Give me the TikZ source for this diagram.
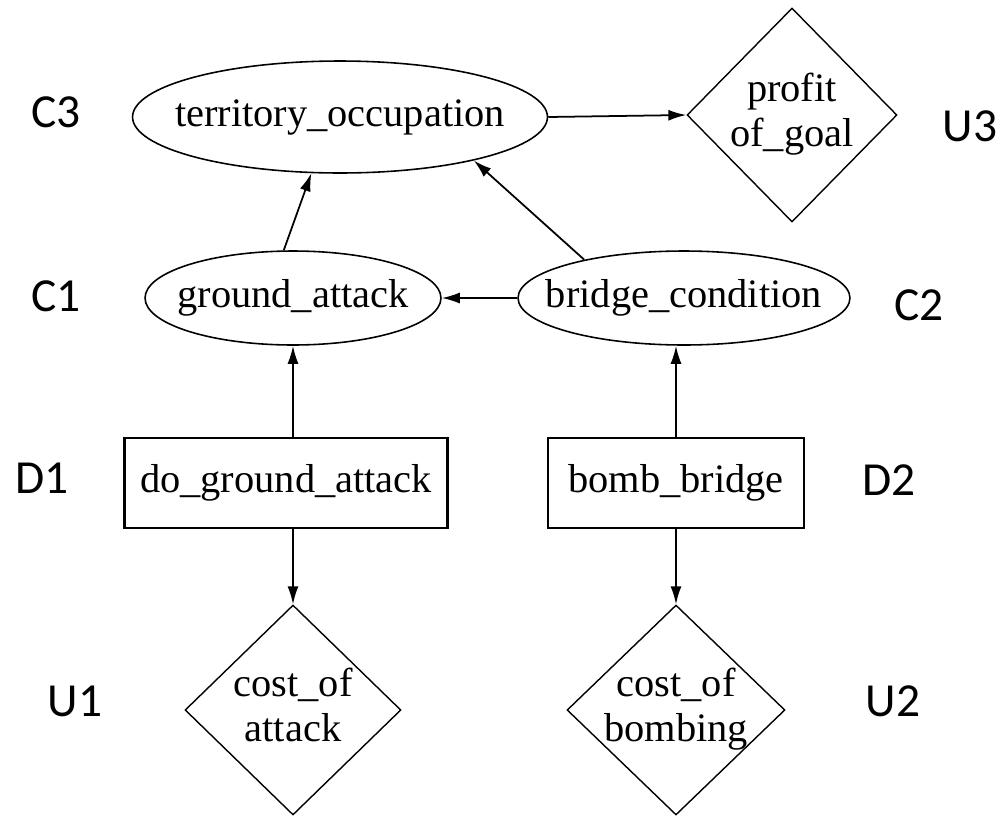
\documentclass[tikz,border=0pt]{standalone}
\usepackage{fontspec}
\setmainfont{Liberation Serif}
\newfontfamily\tagfont{Carlito}
\usetikzlibrary{shapes.geometric,arrows.meta}
% text that does not widen its node
\newcommand{\nowide}[1]{\makebox[0pt]{#1}}
\newcommand{\twolines}[2]{\makebox[0pt]{\begin{tabular}{@{}c@{}}#1\\#2\end{tabular}}}

\begin{document}
\begin{tikzpicture}[x=0.02cm,y=-0.02cm,
    chance/.style={draw,ellipse,line width=0.9pt,inner sep=0pt,font=\fontsize{23}{26}\selectfont},
    decision/.style={draw,rectangle,line width=1.4pt,inner sep=0pt,font=\fontsize{23}{26}\selectfont},
    utility/.style={draw,diamond,line width=0.8pt,inner sep=0pt,font=\fontsize{23}{26}\selectfont},
    link/.style={line width=1pt,-{Latex[length=0.36cm,width=0.22cm]}},
    tag/.style={font=\tagfont\fontsize{27}{30}\selectfont}]
\useasboundingbox[fill=white] (0,0) rectangle (1001,819);

% Chance nodes
\node[chance,minimum width=8.3cm,minimum height=2.24cm] (C3) at (340,117) {\nowide{territory\_occupation}};
\node[chance,minimum width=5.92cm,minimum height=1.88cm] (C1) at (293,298) {\nowide{ground\_attack}};
\node[chance,minimum width=6.64cm,minimum height=1.88cm] (C2) at (684,298) {\nowide{bridge\_condition}};

% Decision nodes
\node[decision,minimum width=6.46cm,minimum height=1.8cm] (D1) at (286,483) {\nowide{do\_ground\_attack}};
\node[decision,minimum width=5.12cm,minimum height=1.8cm] (D2) at (676,483) {\nowide{bomb\_bridge}};

% Utility nodes
\node[utility,minimum width=4.2cm,minimum height=4.28cm] (U3) at (792,115) {\twolines{profit}{of\_goal}};
\node[utility,minimum width=4.32cm,minimum height=4.2cm] (U1) at (293,710) {\twolines{cost\_of}{attack}};
\node[utility,minimum width=4.36cm,minimum height=4.2cm] (U2) at (676,710) {\twolines{cost\_of}{bombing}};

% Links
\draw[link] (C3.east) -- (U3.west);
\draw[link] (C2.west) -- (C1.east);
\draw[link] (C1.101) -- (C3.243);
\draw[link] (C2.159) -- (C3.-18);
\draw[link] (D1.north -| C1.south) -- (C1.south);
\draw[link] (D2.north) -- (D2.north |- C2.south);
\draw[link] (D1.south -| U1.north) -- (U1.north);
\draw[link] (D2.south) -- (U2.north);

% Side labels
\foreach \name/\x/\y in {C3/56/112, U3/970/126, C1/56/296, C2/919/305, D1/42/478, D2/889/480, U1/75/701, U2/893/701}
    \node[tag] (l\name) at (\x,\y) {\name};
\end{tikzpicture}
\end{document}
